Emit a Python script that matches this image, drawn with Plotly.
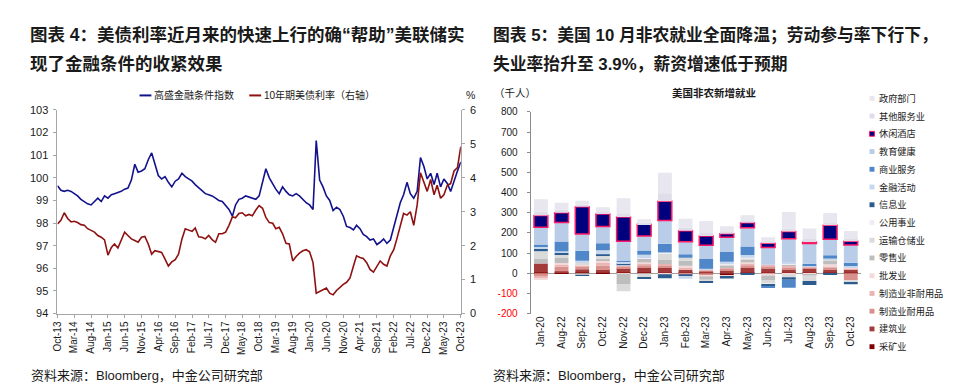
import plotly.graph_objects as go
import pandas as pd

W, H = 954, 391


def px(x):
    return x / W


def py(y):
    return 1 - y / H


# ---------------- Left chart data (monthly, Oct-13 .. Oct-23) ----------------
fci_2013 = [99.65, 99.45, 99.40]
fci_2014 = [99.45, 99.40, 99.30, 99.20, 99.05, 98.95, 98.85, 98.80, 98.95, 99.10, 98.95, 99.20]
fci_2015 = [99.10, 99.25, 99.30, 99.35, 99.40, 99.50, 99.55, 99.90, 100.60, 100.25, 100.30, 100.40]
fci_2016 = [100.80, 101.10, 100.60, 100.10, 99.95, 100.05, 99.80, 99.60, 99.85, 99.95, 100.20, 100.05]
fci_2017 = [99.95, 99.85, 99.70, 99.55, 99.45, 99.30, 99.25, 99.20, 99.10, 99.00, 98.95, 98.80]
fci_2018 = [98.60, 98.30, 98.80, 99.05, 99.10, 99.20, 99.15, 99.10, 99.05, 99.20, 99.80, 100.40]
fci_2019 = [100.00, 99.70, 99.50, 99.30, 99.60, 99.40, 99.25, 99.20, 99.30, 99.20, 99.05, 98.90]
fci_2020 = [98.80, 98.60, 101.65, 99.90, 99.60, 99.20, 99.00, 98.55, 98.70, 98.60, 98.30, 97.85]
fci_2021 = [97.80, 97.70, 97.90, 97.75, 97.50, 97.40, 97.25, 97.30, 97.05, 97.15, 97.30, 97.10]
fci_2022 = [97.25, 97.80, 98.40, 98.90, 99.25, 99.80, 99.30, 99.10, 99.40, 100.90, 100.50, 99.95]
fci_2023 = [100.20, 99.70, 100.20, 99.60, 99.95, 99.75, 99.40, 99.90, 100.30, 100.70]

ust_2013 = [2.64, 2.75, 2.97]
ust_2014 = [2.80, 2.70, 2.72, 2.68, 2.62, 2.60, 2.50, 2.45, 2.40, 2.30, 2.25, 2.17]
ust_2015 = [1.72, 1.95, 2.05, 1.93, 2.15, 2.40, 2.30, 2.20, 2.15, 2.10, 2.25, 2.27]
ust_2016 = [2.05, 1.75, 1.85, 1.83, 1.80, 1.60, 1.40, 1.52, 1.59, 1.75, 2.20, 2.50]
ust_2017 = [2.45, 2.42, 2.52, 2.26, 2.25, 2.20, 2.30, 2.18, 2.10, 2.35, 2.35, 2.40]
ust_2018 = [2.60, 2.85, 2.82, 2.95, 2.97, 2.88, 2.92, 2.88, 3.05, 3.18, 3.10, 2.83]
ust_2019 = [2.68, 2.66, 2.50, 2.54, 2.35, 2.07, 2.05, 1.55, 1.68, 1.78, 1.85, 1.88]
ust_2020 = [1.82, 1.50, 0.60, 0.65, 0.72, 0.75, 0.60, 0.55, 0.68, 0.78, 0.86, 0.92]
ust_2021 = [1.05, 1.40, 1.70, 1.65, 1.62, 1.50, 1.30, 1.22, 1.40, 1.55, 1.45, 1.40]
ust_2022 = [1.70, 1.88, 2.20, 2.60, 2.95, 2.90, 3.00, 2.60, 3.20, 4.15, 3.90, 3.60]
ust_2023 = [3.95, 3.50, 3.78, 3.40, 3.50, 3.78, 3.83, 4.20, 4.30, 4.92]

fci = fci_2013 + fci_2014 + fci_2015 + fci_2016 + fci_2017 + fci_2018 + fci_2019 + fci_2020 + fci_2021 + fci_2022 + fci_2023
ust = ust_2013 + ust_2014 + ust_2015 + ust_2016 + ust_2017 + ust_2018 + ust_2019 + ust_2020 + ust_2021 + ust_2022 + ust_2023
dates = pd.date_range("2013-10-01", periods=len(fci), freq="MS")

# ---------------- Right chart data (thousands) ----------------
months = ["Jan-20", "Aug-22", "Sep-22", "Oct-22", "Nov-22", "Dec-22", "Jan-23", "Feb-23",
          "Mar-23", "Apr-23", "May-23", "Jun-23", "Jul-23", "Aug-23", "Sep-23", "Oct-23"]

mining        = [3, 2, 3, 2, 3, 3, 2, 2, 2, -10, 2, 2, 2, 2, 2, 2]
construction  = [45, 8, 17, 16, 23, 23, 24, 14, 6, 14, 24, 24, 19, 20, 16, 19]
mfg_durable   = [-14, 22, 14, 20, 8, 14, 12, -5, -12, 8, 14, 8, 8, 8, 10, -35]
mfg_nondur    = [-10, 10, 6, 12, 4, 10, 8, 12, 11, 6, 10, 8, 8, 4, 8, 5]
wholesale     = [-10, 8, 6, 10, -3, 4, -5, 9, -5, -8, 4, -12, -5, -5, 8, 1]
retail        = [22, 25, -10, 12, -50, 20, 20, 25, -15, 8, 12, -22, 8, -5, 18, 1]
transport     = [36, 18, 7, 14, -37, -20, 30, 14, -10, 10, 8, -18, -15, -29, 5, -12]
utilities     = [3, 2, 2, 3, 2, 1, 5, 1, 1, 2, 2, -5, 5, 1, 1, 3]
information   = [11, 6, -2, 5, 10, -7, -20, -10, -3, -8, -8, -8, -12, -20, -5, -8]
financial     = [14, 8, 7, 20, 8, 16, 3, -12, 2, 9, 14, 5, 6, 4, 5, 5]
business      = [8, 48, 49, 35, 2, 21, 42, 17, 48, 48, 43, -7, -40, 8, 16, 16]
edu_health    = [86, 95, 83, 83, 99, 73, 115, 62, 69, 73, 93, 80, 115, 100, 79, 88]
leisure       = [58, 48, 136, 61, 120, 58, 96, 55, 45, 18, 24, 22, 36, 8, 70, 19]
other_serv    = [20, 15, 10, 10, 15, 8, 40, 15, 15, 12, 12, 10, 15, 15, 15, 10]
government    = [61, 35, 19, 24, 78, 16, 101, 44, 60, 25, 25, 19, 81, 52, 46, 40]

# stacking order: first = nearest zero
series = [
    ("采矿业", mining, "#7f0000"),
    ("建筑业", construction, "#a33b3b"),
    ("制造业耐用品", mfg_durable, "#d9918e"),
    ("制造业非耐用品", mfg_nondur, "#e9b4b2"),
    ("批发业", wholesale, "#f3d9d9"),
    ("零售业", retail, "#bdbdbd"),
    ("运输仓储业", transport, "#dadada"),
    ("公用事业", utilities, "#efedf3"),
    ("信息业", information, "#2c5b8e"),
    ("金融活动", financial, "#c6d7ee"),
    ("商业服务", business, "#5087c8"),
    ("教育健康", edu_health, "#b9cde9"),
    ("休闲酒店", leisure, "#00007f"),
    ("其他服务业", other_serv, "#dfdde9"),
    ("政府部门", government, "#e8e6ee"),
]
LEISURE_EDGE = "#ff1a66"

FONT = "Liberation Sans, Arial, Noto Sans CJK SC, sans-serif"
BLUE = "#12128c"
RED = "#8e1010"
AXIS = "#a6a6a6"

fig = go.Figure()

fig.add_trace(go.Scatter(x=dates, y=fci, mode="lines", name="高盛金融条件指数",
                         line=dict(color=BLUE, width=1.6), xaxis="x", yaxis="y", showlegend=False))
fig.add_trace(go.Scatter(x=dates, y=ust, mode="lines", name="10年期美债利率（右轴）",
                         line=dict(color=RED, width=1.6), xaxis="x", yaxis="y2", showlegend=False))

for name, vals, color in series:
    is_leisure = name == "休闲酒店"
    fig.add_trace(go.Bar(
        x=months, y=vals, name=name,
        marker=dict(color=color,
                    line=dict(color=LEISURE_EDGE if is_leisure else color,
                              width=1.5 if is_leisure else 0)),
        xaxis="x2", yaxis="y3", showlegend=False))

ytick3 = list(range(-200, 801, 100))
ytext3 = [f"<span style='color:#ff0000'>{v}</span>" if v < 0 else str(v) for v in ytick3]

fig.update_layout(
    width=W, height=H,
    margin=dict(l=0, r=0, t=0, b=0),
    paper_bgcolor="white", plot_bgcolor="white",
    font=dict(family=FONT, size=10, color="#1a1a1a"),
    barmode="relative", bargap=0.33,
    xaxis=dict(domain=[px(44), px(452)], anchor="y", type="date",
               range=["2013-10-01", "2023-10-01"], tick0="2013-10-01", dtick="M5",
               tickformat="%b-%y", tickangle=-90, tickfont=dict(size=10),
               showline=True, linecolor=AXIS, ticks="outside", ticklen=3, tickcolor=AXIS,
               showgrid=False, zeroline=False),
    yaxis=dict(domain=[py(309), py(99)], anchor="x", range=[94, 103], dtick=1,
               tickfont=dict(size=11), showline=True, linecolor=AXIS, ticks="outside",
               ticklen=3, tickcolor=AXIS, showgrid=False, zeroline=False, ticklabelstandoff=3),
    yaxis2=dict(overlaying="y", side="right", anchor="x", range=[0, 6], dtick=1,
                tickfont=dict(size=11), showline=True, linecolor=AXIS, ticks="outside",
                ticklen=3, tickcolor=AXIS, showgrid=False, zeroline=False, ticklabelstandoff=3),
    xaxis2=dict(domain=[px(522.6), px(857)], anchor="y3", type="category",
                tickangle=-90, tickfont=dict(size=10), showline=False, ticks="",
                showgrid=False, zeroline=False),
    yaxis3=dict(domain=[py(309), py(101)], anchor="x2", range=[-200, 800],
                tickvals=ytick3, ticktext=ytext3, tickfont=dict(size=10),
                showline=True, linecolor="#8c8c8c", ticks="outside", ticklen=3,
                tickcolor="#8c8c8c", showgrid=False, zeroline=True,
                zerolinecolor="#a0a0a0", zerolinewidth=1, ticklabelstandoff=7),
)

annotations = []
shapes = []


def text(x, y, s, size, anchor="left", bold=False, color="#1a1a1a"):
    annotations.append(dict(xref="paper", yref="paper", x=px(x), y=py(y),
                            xanchor=anchor, yanchor="middle", showarrow=False,
                            text=f"<b>{s}</b>" if bold else s,
                            font=dict(size=size, color=color, family=FONT)))


# titles
text(14, 22, "图表 4：美债利率近月来的快速上行的确“帮助”美联储实", 17.5, bold=True)
text(14, 52, "现了金融条件的收紧效果", 17.5, bold=True)
text(483, 22, "图表 5：美国 10 月非农就业全面降温；劳动参与率下行下，", 16.8, bold=True)
text(483, 52, "失业率抬升至 3.9%，薪资增速低于预期", 16.8, bold=True)

# sources
text(15, 373, "资料来源：Bloomberg，中金公司研究部", 13)
text(483, 373, "资料来源：Bloomberg，中金公司研究部", 13)

# left legend
shapes.append(dict(type="line", xref="paper", yref="paper", x0=px(127), x1=px(139),
                   y0=py(84), y1=py(84), line=dict(color=BLUE, width=2)))
text(140, 84, "高盛金融条件指数", 10)
shapes.append(dict(type="line", xref="paper", yref="paper", x0=px(238), x1=px(250),
                   y0=py(84), y1=py(84), line=dict(color=RED, width=2)))
text(251, 84, "10年期美债利率（右轴）", 10)
text(462, 84, "%", 10.5, anchor="center")

# right panel labels
text(507, 82, "（千人）", 10.5, anchor="center")
text(708, 81, "美国非农新增就业", 10.5, anchor="center", bold=True)

# right legend (top to bottom = reverse stacking order)
for i, (name, vals, color) in enumerate(reversed(series)):
    yc = 87 + i * 18.3
    is_leisure = name == "休闲酒店"
    shapes.append(dict(type="rect", xref="paper", yref="paper",
                       x0=px(865.5), x1=px(870.5), y0=py(yc + 2.5), y1=py(yc - 2.5),
                       fillcolor=color,
                       line=dict(color=LEISURE_EDGE if is_leisure else color,
                                 width=1 if is_leisure else 0)))
    text(873.5, yc, name, 9.2)

fig.update_layout(annotations=annotations, shapes=shapes)

fig.write_html("out.html")
